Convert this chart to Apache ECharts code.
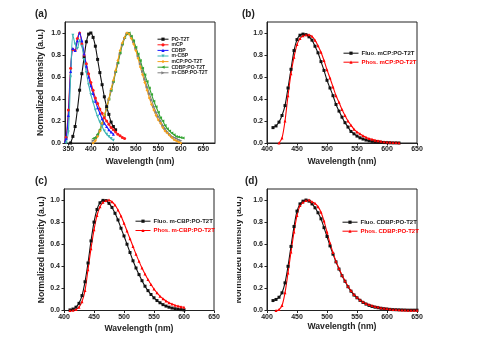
<!DOCTYPE html>
<html><head><meta charset="utf-8">
<script src="https://cdn.jsdelivr.net/npm/echarts@6/dist/echarts.min.js"></script>
<style>html,body{margin:0;padding:0;background:#fff}#c{width:479px;height:346px}</style>
</head><body><div id="c"></div>
<script>
// ---------- DATA ----------
const xTicksA = [350,400,450,500,550,600,650];
const yTicks = [0,0.2,0.4,0.6,0.8,1.0];

const aPO = [[355,0],[360,0.06],[365,0.15],[370,0.3],[375,0.48],[380,0.63],[385,0.78],[390,0.92],[395,0.99],[400,1.0],[405,0.96],[410,0.88],[415,0.76],[420,0.64],[425,0.53],[430,0.42],[435,0.33],[440,0.26],[445,0.19],[450,0.15],[455,0.12]];
const aMCP = [[340,0],[345,0.05],[350,0.3],[355,0.68],[360,0.85],[365,0.84],[370,0.95],[375,1.0],[380,0.9],[385,0.8],[390,0.72],[395,0.63],[400,0.55],[405,0.48],[410,0.41],[415,0.36],[420,0.31],[425,0.27],[430,0.23],[435,0.2],[440,0.17],[445,0.14],[450,0.12],[455,0.1],[460,0.08],[465,0.065],[470,0.05],[475,0.04]];
const aCDBP = [[340,0],[345,0.04],[350,0.25],[355,0.65],[360,0.86],[365,0.84],[370,0.93],[375,1.0],[380,0.93],[385,0.81],[390,0.7],[395,0.6],[400,0.52],[405,0.45],[410,0.38],[415,0.32],[420,0.27],[425,0.22],[430,0.18],[435,0.15],[440,0.12],[445,0.1],[450,0.08]];
const aMCBP = [[345,0],[350,0.1],[355,0.6],[360,0.98],[365,0.9],[370,0.86],[375,0.93],[380,0.88],[385,0.76],[390,0.64],[395,0.53],[400,0.44],[405,0.37],[410,0.3],[415,0.24],[420,0.19],[425,0.15],[430,0.11],[435,0.08],[440,0.06],[445,0.04],[450,0.025]];
const aMCPPO = [[405,0],[410,0.02],[415,0.06],[420,0.11],[425,0.18],[430,0.25],[435,0.32],[440,0.4],[445,0.49],[450,0.57],[455,0.66],[460,0.75],[465,0.84],[470,0.91],[475,0.96],[480,1.0],[485,0.99],[490,0.95],[495,0.9],[500,0.84],[505,0.77],[510,0.69],[515,0.62],[520,0.55],[525,0.48],[530,0.41],[535,0.35],[540,0.3],[545,0.25],[550,0.21],[555,0.18],[560,0.14],[565,0.11],[570,0.09],[575,0.07],[580,0.05],[585,0.03],[590,0.02],[595,0.01],[600,0]];
const aCDBPPO = [[405,0.04],[410,0.05],[415,0.08],[420,0.12],[425,0.18],[430,0.25],[435,0.32],[440,0.4],[445,0.48],[450,0.56],[455,0.65],[460,0.73],[465,0.82],[470,0.9],[475,0.96],[480,0.99],[485,1.0],[490,0.97],[495,0.93],[500,0.87],[505,0.81],[510,0.75],[515,0.68],[520,0.62],[525,0.56],[530,0.5],[535,0.44],[540,0.38],[545,0.33],[550,0.28],[555,0.23],[560,0.2],[565,0.16],[570,0.13],[575,0.11],[580,0.09],[585,0.075],[590,0.06],[595,0.055],[600,0.05],[605,0.045]];
const aMCBPPO = [[405,0.02],[410,0.04],[415,0.07],[420,0.11],[425,0.17],[430,0.24],[435,0.31],[440,0.39],[445,0.47],[450,0.55],[455,0.64],[460,0.72],[465,0.81],[470,0.89],[475,0.95],[480,0.99],[485,1.0],[490,0.97],[495,0.92],[500,0.86],[505,0.79],[510,0.72],[515,0.65],[520,0.58],[525,0.51],[530,0.45],[535,0.39],[540,0.33],[545,0.28],[550,0.24],[555,0.2],[560,0.16],[565,0.13],[570,0.1],[575,0.08],[580,0.06],[585,0.05],[590,0.04],[595,0.03],[600,0.02]];

const bFluo = [[410,0.14],[415,0.155],[420,0.19],[425,0.25],[430,0.34],[435,0.5],[440,0.67],[445,0.84],[450,0.94],[455,0.98],[460,0.99],[465,0.985],[470,0.965],[475,0.935],[480,0.88],[485,0.82],[490,0.74],[495,0.66],[500,0.57],[505,0.5],[510,0.43],[515,0.35],[520,0.29],[525,0.235],[530,0.185],[535,0.145],[540,0.105],[545,0.083],[550,0.063],[555,0.047],[560,0.036],[565,0.027],[570,0.02],[575,0.015],[580,0.011],[585,0.008],[590,0.006],[595,0.004],[600,0.003],[605,0.002],[610,0.001],[615,0.001],[620,0]];
const bPhos = [[420,0],[425,0.045],[430,0.2],[435,0.43],[440,0.63],[445,0.78],[450,0.895],[455,0.95],[460,0.975],[465,0.985],[470,0.983],[475,0.97],[480,0.935],[485,0.885],[490,0.825],[495,0.75],[500,0.665],[505,0.59],[510,0.51],[515,0.43],[520,0.37],[525,0.305],[530,0.25],[535,0.2],[540,0.162],[545,0.126],[550,0.1],[555,0.083],[560,0.066],[565,0.052],[570,0.041],[575,0.033],[580,0.026],[585,0.021],[590,0.016],[595,0.012],[600,0.009],[605,0.007],[610,0.005],[615,0.004],[620,0.003]];

const cFluo = [[410,0.005],[415,0.013],[420,0.03],[425,0.065],[430,0.135],[435,0.26],[440,0.43],[445,0.63],[450,0.8],[455,0.915],[460,0.975],[465,0.997],[470,0.995],[475,0.97],[480,0.933],[485,0.88],[490,0.82],[495,0.745],[500,0.675],[505,0.6],[510,0.525],[515,0.45],[520,0.385],[525,0.325],[530,0.27],[535,0.22],[540,0.18],[545,0.145],[550,0.115],[555,0.09],[560,0.07],[565,0.053],[570,0.04],[575,0.03],[580,0.022],[585,0.016],[590,0.012],[595,0.008],[600,0.005]];
const cPhos = [[410,0],[415,0.003],[420,0.009],[425,0.03],[430,0.08],[435,0.18],[440,0.37],[445,0.56],[450,0.73],[455,0.86],[460,0.94],[465,0.98],[470,0.997],[475,1.0],[480,0.985],[485,0.955],[490,0.91],[495,0.855],[500,0.79],[505,0.72],[510,0.65],[515,0.58],[520,0.51],[525,0.445],[530,0.385],[535,0.33],[540,0.28],[545,0.235],[550,0.195],[555,0.16],[560,0.13],[565,0.106],[570,0.087],[575,0.07],[580,0.058],[585,0.048],[590,0.04],[595,0.034],[600,0.029]];

const dFluo = [[410,0.09],[415,0.1],[420,0.12],[425,0.16],[430,0.25],[435,0.4],[440,0.58],[445,0.76],[450,0.9],[455,0.965],[460,0.99],[465,1.0],[470,0.99],[475,0.965],[480,0.93],[485,0.885],[490,0.83],[495,0.75],[500,0.67],[505,0.585],[510,0.51],[515,0.44],[520,0.375],[525,0.315],[530,0.265],[535,0.215],[540,0.175],[545,0.14],[550,0.115],[555,0.092],[560,0.073],[565,0.058],[570,0.046],[575,0.037],[580,0.03],[585,0.025],[590,0.02],[595,0.016],[600,0.013],[605,0.01],[610,0.008],[615,0.007],[620,0.006],[625,0.005],[630,0.004],[635,0.003],[640,0.003],[645,0.003],[650,0.003]];
const dPhos = [[415,0],[420,0.008],[425,0.045],[430,0.16],[435,0.34],[440,0.53],[445,0.71],[450,0.86],[455,0.95],[460,0.98],[465,0.995],[470,1.0],[475,0.985],[480,0.97],[485,0.94],[490,0.89],[495,0.81],[500,0.71],[505,0.61],[510,0.525],[515,0.445],[520,0.38],[525,0.32],[530,0.27],[535,0.22],[540,0.18],[545,0.145],[550,0.12],[555,0.097],[560,0.079],[565,0.064],[570,0.054],[575,0.045],[580,0.037],[585,0.031],[590,0.025],[595,0.021],[600,0.017],[605,0.013],[610,0.01],[615,0.008],[620,0.006],[625,0.005],[630,0.004],[635,0.003],[640,0.003],[645,0.003],[650,0.003]];

// ---------- CHART ----------
const FONT = '"Liberation Sans", Arial, sans-serif';
const TXT = '#222';
const grids = [
  {left:65, top:22, width:150, height:121},
  {left:267, top:22, width:150, height:121},
  {left:64, top:189, width:150, height:121.5},
  {left:267, top:189, width:150, height:121.5}
];
const labelStyle = {fontSize:7, fontWeight:'bold', color:TXT, fontFamily:FONT};
const nameStyle = {fontSize:8.6, fontWeight:'bold', color:TXT, fontFamily:FONT};

function xAxis(i, min, max, nameGap, custom) {
  const ax = {
    gridIndex:i, type:'value', min:min, max:max,
    axisLine:{show:true, onZero:false, lineStyle:{color:TXT, width:1}},
    axisTick:{show:true, length:2.5, lineStyle:{color:TXT, width:1}},
    axisLabel:Object.assign({margin:3, showMinLabel:true, showMaxLabel:true}, labelStyle),
    splitLine:{show:false},
    name:'Wavelength (nm)', nameLocation:'middle', nameGap:nameGap, nameTextStyle:nameStyle
  };
  if (custom) {
    ax.axisLabel.customValues = custom;
    ax.axisTick.customValues = custom;
  } else {
    ax.interval = 50;
  }
  return ax;
}
function yAxis(i, name, nameGap) {
  return {
    gridIndex:i, type:'value', min:0, max:1.1,
    axisLine:{show:true, onZero:false, lineStyle:{color:TXT, width:1}},
    axisTick:{show:true, length:2.5, customValues:yTicks, lineStyle:{color:TXT, width:1}},
    axisLabel:Object.assign({margin:4, customValues:yTicks, formatter:v=>v.toFixed(1)}, labelStyle),
    splitLine:{show:false},
    name:name, nameLocation:'middle', nameGap:nameGap, nameRotate:90, nameTextStyle:nameStyle
  };
}
function line(name, data, color, symbol, idx, rot) {
  return {
    name:name, type:'line', data:data, xAxisIndex:idx, yAxisIndex:idx,
    symbol:symbol, symbolSize:3, symbolRotate:rot||0, showSymbol:true,
    lineStyle:{color:color, width:1.1}, itemStyle:{color:color},
    smooth:0.3, animation:false, emphasis:{disabled:true}
  };
}
function legend(left, top, gap, fs, iw, data) {
  return {left:left, top:top, orient:'vertical', padding:0, itemWidth:iw, itemHeight:4, itemGap:gap,
    lineStyle:{width:1}, itemStyle:{borderWidth:0},
    textStyle:{fontSize:fs, lineHeight:fs, fontWeight:'bold', color:TXT, fontFamily:FONT, padding:[0,0,0,-2]},
    data:data};
}
const YN = 'Normalized Intensity (a.u.)';
const option = {
  animation:false,
  backgroundColor:'#fff',
  grid: grids.map(g => Object.assign({show:true, borderColor:TXT, borderWidth:1, backgroundColor:'transparent', containLabel:false, outerBoundsMode:'none'}, g)),
  xAxis: [
    xAxis(0, 342.5, 676, 14, xTicksA),
    xAxis(1, 400, 650, 14),
    xAxis(2, 400, 650, 14),
    xAxis(3, 400, 650, 12)
  ],
  yAxis: [
    yAxis(0, YN, 20),
    yAxis(1, '', 20),
    yAxis(2, YN, 13),
    yAxis(3, YN, 24)
  ],
  legend: [
    legend(157, 36.7, 0.6, 5, 11, ['PO-T2T','mCP','CDBP','m-CBP','mCP:PO-T2T','CDBP:PO-T2T','m-CBP:PO-T2T']),
    legend(343, 50.2, 3, 6, 15, [{name:'Fluo. mCP:PO-T2T', textStyle:{color:TXT}}, {name:'Phos. mCP:PO-T2T', textStyle:{color:'#ff0000'}}]),
    legend(135, 218.2, 3.3, 6, 15, [{name:'Fluo. m-CBP:PO-T2T', textStyle:{color:TXT}}, {name:'Phos. m-CBP:PO-T2T', textStyle:{color:'#ff0000'}}]),
    legend(342, 219.2, 3, 6, 15, [{name:'Fluo. CDBP:PO-T2T', textStyle:{color:TXT}}, {name:'Phos. CDBP:PO-T2T', textStyle:{color:'#ff0000'}}])
  ],
  series: [
    line('m-CBP:PO-T2T', aMCBPPO, '#7f7f7f', 'triangle', 0, -90),
    line('CDBP:PO-T2T', aCDBPPO, '#33a532', 'triangle', 0, 90),
    line('mCP:PO-T2T', aMCPPO, '#f7a11a', 'diamond', 0),
    line('PO-T2T', aPO, '#111111', 'rect', 0),
    line('mCP', aMCP, '#ff1a1a', 'circle', 0),
    line('CDBP', aCDBP, '#1a1aff', 'triangle', 0),
    line('m-CBP', aMCBP, '#3fb5b5', 'triangle', 0, 180),
    line('Fluo. mCP:PO-T2T', bFluo, '#111111', 'rect', 1),
    line('Phos. mCP:PO-T2T', bPhos, '#ff0000', 'triangle', 1),
    line('Fluo. m-CBP:PO-T2T', cFluo, '#111111', 'rect', 2),
    line('Phos. m-CBP:PO-T2T', cPhos, '#ff0000', 'triangle', 2),
    line('Fluo. CDBP:PO-T2T', dFluo, '#111111', 'rect', 3),
    line('Phos. CDBP:PO-T2T', dPhos, '#ff0000', 'triangle', 3)
  ],
  graphic: [
    {type:'rect', left:222, top:185, shape:{width:15, height:130}, style:{fill:'#fff'}, z:100},
    {type:'text', left:35, top:9, style:{text:'(a)', font:'bold 10px "Liberation Sans", Arial, sans-serif', fill:TXT}, z:101},
    {type:'text', left:242, top:9, style:{text:'(b)', font:'bold 10px "Liberation Sans", Arial, sans-serif', fill:TXT}, z:101},
    {type:'text', left:35, top:176, style:{text:'(c)', font:'bold 10px "Liberation Sans", Arial, sans-serif', fill:TXT}, z:101},
    {type:'text', left:245, top:176, style:{text:'(d)', font:'bold 10px "Liberation Sans", Arial, sans-serif', fill:TXT}, z:101}
  ]
};
const chart = echarts.init(document.getElementById('c'), null, {renderer:'canvas'});
chart.setOption(option);
</script></body></html>
